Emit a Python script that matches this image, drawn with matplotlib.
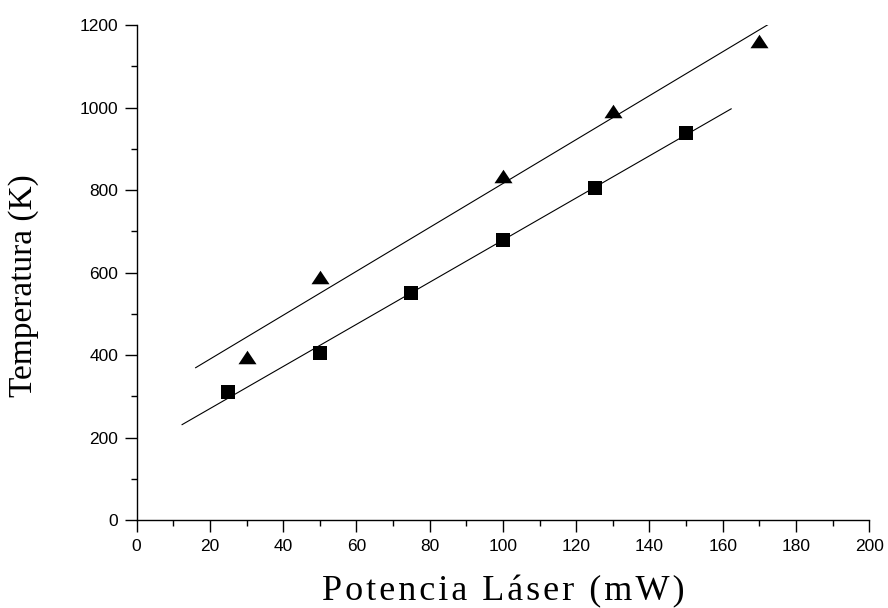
import matplotlib
matplotlib.use("Agg")
import matplotlib.pyplot as plt
import numpy as np
from matplotlib.ticker import MultipleLocator

# squares
power_sq = [25, 50, 75, 100, 125, 150]
temp_sq = [311, 404, 551, 680, 804, 939]
fit_range_sq = [12.4, 162.3]

# triangles
power_tri = [30, 50, 100, 130, 170]
temp_tri = [395, 590, 834, 992, 1162]
fit_range_tri = [16.1, 173.0]

XLABEL = "Potencia Láser (mW)"
YLABEL = "Temperatura (K)"


def spaced(text, gap="\u200a"):
    return gap.join(text)


plt.rcParams["font.family"] = ["Liberation Sans", "DejaVu Sans"]

fig = plt.figure(figsize=(8.88, 6.08), dpi=100)
ax = fig.add_axes([0.1539, 0.1447, 0.825, 0.8141])

tri = [(0, 0.75), (-1, -0.75), (1, -0.75)]

for px, ty, rng, marker, ms in [
    (power_sq, temp_sq, fit_range_sq, "s", 9.5),
    (power_tri, temp_tri, fit_range_tri, tri, 13),
]:
    k, b = np.polyfit(px, ty, 1)
    xs = np.array(rng)
    ax.plot(xs, k * xs + b, color="black", linewidth=0.8)
    ax.plot(px, ty, linestyle="none", marker=marker, markersize=ms,
            color="black", markeredgewidth=0)

ax.set_xlim(0, 200)
ax.set_ylim(0, 1200)
ax.xaxis.set_major_locator(MultipleLocator(20))
ax.xaxis.set_minor_locator(MultipleLocator(10))
ax.yaxis.set_major_locator(MultipleLocator(200))
ax.yaxis.set_minor_locator(MultipleLocator(100))

for side in ["top", "right"]:
    ax.spines[side].set_visible(False)
for side in ["left", "bottom"]:
    ax.spines[side].set_linewidth(1.0)

ax.tick_params(which="major", direction="out", length=8.4, width=1.0,
               labelsize=12.5, pad=5)
ax.tick_params(which="minor", direction="out", length=4.6, width=1.0)

serif = ["Liberation Serif", "DejaVu Serif"]
ax.set_xlabel(spaced(XLABEL), fontsize=26, family=serif)
ax.set_ylabel(YLABEL, fontsize=24, family=serif)
ax.xaxis.set_label_coords(0.5, -0.112)
ax.yaxis.set_label_coords(-0.133, 0.473)

fig.savefig("out.png", dpi=100)
